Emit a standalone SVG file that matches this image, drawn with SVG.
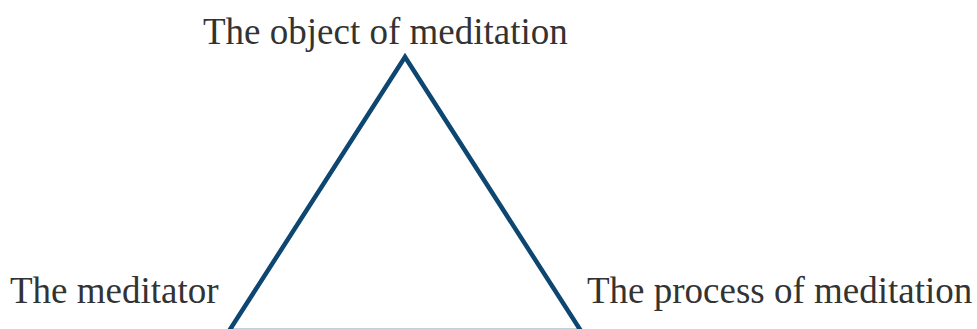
<svg xmlns="http://www.w3.org/2000/svg" width="977" height="329" viewBox="0 0 977 329">
<style>
.lbl{font-family:"Liberation Serif","Times New Roman",serif;font-size:37px;fill:#333333}
.tri{fill:none;stroke:#0d4670;stroke-width:4.5;stroke-linejoin:miter}
</style>
<rect width="977" height="329" fill="#ffffff"/>
<g id="connectors">
<polygon class="tri" points="405,57 229,331 581,331"/>
</g>
<g id="node-object"><text class="lbl" x="203" y="44">The object of meditation</text></g>
<g id="node-meditator"><text class="lbl" x="10" y="303">The meditator</text></g>
<g id="node-process"><text class="lbl" x="587" y="303">The process of meditation</text></g>
</svg>
